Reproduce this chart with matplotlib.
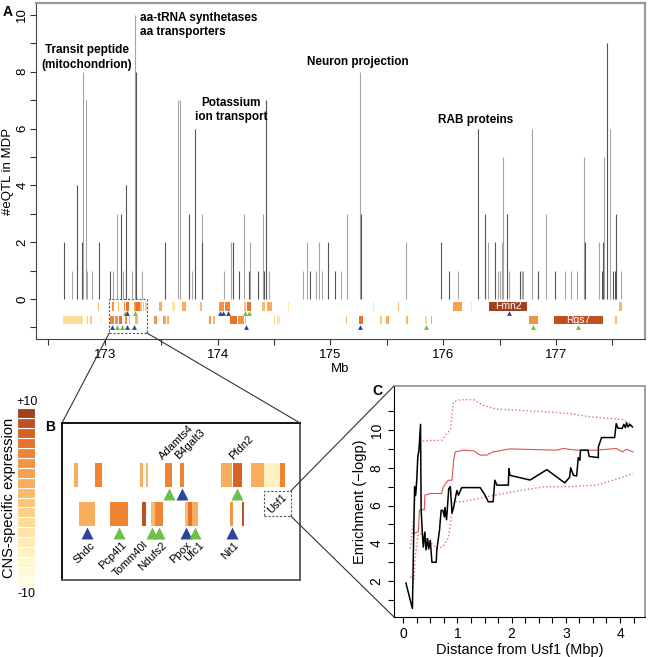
import matplotlib
matplotlib.use("Agg")
import matplotlib.pyplot as plt
from matplotlib.patches import Rectangle, ConnectionPatch
from matplotlib.ticker import MultipleLocator

plt.rcParams['font.family'] = ['Liberation Sans', 'DejaVu Sans']

# ---------------- data ----------------
# panel A: eQTL counts per position (Mb), with a grey tone for each bar
bar_pos = [172.64, 172.71, 172.75, 172.80, 172.80, 172.81, 172.83, 172.84, 172.89, 172.95,
           173.05, 173.07, 173.11, 173.14, 173.16, 173.19, 173.24, 173.27, 173.28, 173.33,
           173.53, 173.65, 173.67, 173.75, 173.77, 173.80, 173.86, 173.86, 174.06, 174.12,
           174.14, 174.19, 174.23, 174.28, 174.29, 174.36, 174.40, 174.41, 174.43, 174.46,
           174.76, 174.79, 174.82, 174.87, 174.90, 174.93, 174.98, 175.04, 175.09, 175.15,
           175.26, 175.27, 175.67, 175.98, 176.05, 176.13, 176.31, 176.37, 176.40, 176.46,
           176.49, 176.50, 176.52, 176.53, 176.57, 176.58, 176.68, 176.70, 176.71, 176.79,
           176.84, 176.91, 176.99, 177.08, 177.13, 177.19, 177.25, 177.26, 177.38, 177.41,
           177.42, 177.43, 177.45, 177.48, 177.51, 177.52, 177.53, 177.58]
bar_h = [2, 1, 4, 1, 2, 8, 7, 1, 1, 2,
         1, 1, 3, 3, 1, 4, 1, 10, 8, 1,
         2, 7, 7, 3, 1, 6, 3, 2, 1, 2,
         2, 1, 3, 1, 2, 1, 3, 1, 7, 1,
         1, 2, 1, 1, 2, 1, 2, 1, 1, 3,
         8, 3, 2, 2, 1, 1, 6, 3, 2, 2,
         1, 1, 2, 5, 3, 1, 1, 1, 1, 6,
         1, 3, 1, 1, 1, 1, 5, 2, 2, 1,
         2, 5, 9, 6, 1, 1, 3, 1]
bar_tone = "dldldllllddlldldlldldlldldldllddldldlddllldlllddllldlddlddldlllldldllldldlllldlddldldddl"

# gene blocks in panel A: start, end (Mb), expression level index
row1_start = [172.94, 173.06, 173.12, 173.17, 173.19, 173.26, 173.28, 173.31, 173.34, 173.36,
              173.48, 173.60, 173.68, 173.84, 174.01, 174.07, 174.23, 174.26, 174.39, 174.44,
              174.62, 174.877, 175.38, 175.60, 176.09, 176.25, 176.41, 177.56]
row1_end = [172.95, 173.08, 173.13, 173.18, 173.21, 173.28, 173.31, 173.33, 173.35, 173.37,
            173.51, 173.62, 173.72, 173.86, 174.06, 174.11, 174.25, 174.30, 174.42, 174.48,
            174.63, 174.885, 175.39, 175.61, 176.17, 176.26, 176.74, 177.59]
row1_level = [9, 12, 9, 13, 14, 12, 14, 9, 8, 7,
              10, 5, 10, 9, 12, 13, 9, 14, 9, 10,
              5, 4, 5, 9, 11, 5, 17, 9]
row2_start = [172.63, 172.84, 172.87, 172.96, 173.05, 173.09, 173.13, 173.18, 173.21, 173.27,
              173.44, 173.52, 173.55, 173.92, 173.96, 174.11, 174.18, 174.245, 174.50, 174.53,
              175.14, 175.25, 175.44, 175.49, 175.67, 175.84, 175.89, 176.76, 176.98, 177.52]
row2_end = [172.81, 172.85, 172.89, 172.97, 173.08, 173.12, 173.15, 173.20, 173.22, 173.29,
            173.46, 173.54, 173.57, 173.94, 173.98, 174.17, 174.23, 174.255, 174.51, 174.55,
            175.15, 175.29, 175.46, 175.52, 175.69, 175.86, 175.90, 176.84, 177.42, 177.54]
row2_level = [6, 8, 8, 5, 13, 12, 14, 12, 9, 9,
              12, 11, 10, 12, 9, 14, 12, 9, 7, 5,
              9, 14, 8, 10, 9, 6, 10, 12, 16, 9]
named_genes = {"Fmn2": (176.41, 176.74, 1), "Rgs7": (176.98, 177.42, 2)}

tri1_pos = [173.18, 173.20, 173.27, 174.02, 174.05, 174.09, 174.24, 174.28, 176.58]
tri1_kind = ["g", "b", "g", "b", "b", "b", "g", "g", "b"]
tri2_pos = [173.06, 173.11, 173.15, 173.20, 173.26, 174.25, 175.26, 175.85, 176.80, 177.20]
tri2_kind = ["b", "g", "g", "b", "b", "b", "b", "g", "g", "g"]

go_labels = ["Transit peptide\n(mitochondrion)", "aa-tRNA synthetases\naa transporters",
             "Potassium\nion transport", "Neuron projection", "RAB proteins"]
go_x = [172.84, 173.31, 174.12, 175.24, 176.29]
go_y = [8.5, 9.65, 6.65, 8.35, 6.3]
go_ha = ["center", "left", "center", "center", "center"]

# panel B: zoomed gene blocks (schematic units)
b1_start = [11.7, 32.7, 77.7, 84.3, 103.3, 117.7, 159.3, 171.0, 188.7, 202.0, 217.7]
b1_end = [16.0, 40.0, 81.0, 86.0, 110.3, 122.0, 170.0, 180.0, 202.0, 217.7, 223.3]
b1_level = [10, 13, 10, 9, 13, 13, 10, 15, 10, 3, 13]
b2_start = [17.0, 48.3, 80.0, 88.7, 92.7, 122.7, 126.0, 130.3, 168.3, 180.0]
b2_end = [33.3, 66.0, 83.7, 92.7, 101.0, 126.0, 130.3, 136.0, 171.0, 182.0]
b2_level = [10, 13, 16, 9, 13, 9, 14, 10, 12, 16]
b1_tri_x = [107.0, 120.0, 175.3]
b1_tri_kind = ["g", "b", "g"]
b2_tri_x = [24.7, 57.0, 89.7, 97.0, 123.7, 133.3, 170.0]
b2_tri_kind = ["b", "g", "g", "g", "b", "g", "b"]
b1_names = ["Adamts4", "B4galt3", "Pfdn2"]
b1_name_x = [102.7, 117.7, 172.7]
b2_names = ["Shdc", "Pcp4l1", "Tomm40l", "Ndufs2", "Ppox", "Ufc1", "Nit1"]
b2_name_x = [26.0, 56.7, 79.3, 97.0, 122.0, 134.3, 170.0]

# colour scale of CNS-specific expression
cbar_levels = list(range(18))
palette = ['#FFFCE3', '#FFF9D9', '#FFF6CF', '#FEF1C3', '#FEEBB5', '#FEE4A7', '#FDDB98',
           '#FCD189', '#FBC67A', '#FABA6B', '#F8AE5D', '#F6A150', '#F49443', '#EF8533',
           '#E5742A', '#D56225', '#BF5022', '#A3401F']

# panel C: enrichment vs distance from Usf1
obs_x = [0.05, 0.17, 0.19, 0.21, 0.23, 0.25, 0.27, 0.29, 0.32, 0.33, 0.35, 0.37, 0.40, 0.42,
         0.45, 0.47, 0.50, 0.53, 0.61, 0.62, 0.67, 0.70, 0.73, 0.76, 0.77, 0.80, 0.84, 0.87,
         0.90, 0.93, 0.99, 1.02, 1.08, 1.42, 1.51, 1.57, 1.66, 1.69, 1.73, 1.82, 1.94, 1.95,
         1.97, 2.34, 2.65, 2.98, 3.07, 3.09, 3.14, 3.20, 3.23, 3.26, 3.27, 3.41, 3.43, 3.60,
         3.60, 3.66, 3.90, 3.93, 3.96, 4.04, 4.07, 4.10, 4.12, 4.15, 4.18, 4.23]
obs_y = [1.9, 0.55, 3.8, 7.0, 6.55, 7.3, 8.6, 8.9, 10.3, 5.9, 4.7, 3.8, 4.6, 3.65,
         4.25, 3.7, 4.15, 3.0, 3.0, 3.65, 4.7, 5.75, 5.75, 5.4, 5.9, 5.25, 6.9, 7.0,
         5.6, 5.9, 6.8, 6.55, 6.95, 6.95, 6.55, 6.2, 6.2, 7.34, 7.08, 7.08, 7.08, 7.95,
         7.6, 7.35, 7.9, 7.2, 7.5, 8.0, 7.6, 7.57, 8.54, 8.4, 8.93, 8.93, 8.6, 8.54,
         9.1, 9.6, 9.6, 10.34, 10.1, 10.08, 10.3, 10.12, 10.38, 10.16, 10.3, 10.16]
mean_x = [0.18, 0.28, 0.30, 0.39, 0.40, 0.50, 0.71, 0.74, 0.83, 0.90, 0.93, 0.96, 1.11, 1.30,
          1.42, 1.54, 1.66, 1.97, 2.83, 2.95, 3.20, 3.56, 3.93, 4.05, 4.12, 4.24]
mean_y = [4.52, 4.61, 5.76, 5.79, 6.55, 6.64, 6.64, 6.99, 7.34, 7.34, 8.4, 8.84, 8.93, 8.9,
          8.67, 8.67, 8.84, 9.0, 8.93, 9.02, 8.93, 8.93, 9.02, 8.84, 8.98, 8.84]
hi_x = [0.13, 0.20, 0.27, 0.31, 0.50, 0.71, 0.80, 0.87, 0.93, 1.05, 1.30, 1.48, 1.73, 2.10,
        2.65, 3.07, 3.44, 3.87, 4.05, 4.18, 4.24]
hi_y = [3.73, 5.5, 8.6, 9.4, 9.45, 9.45, 9.8, 10.0, 11.5, 11.6, 11.6, 11.3, 11.1, 11.05,
        10.96, 10.87, 10.7, 10.6, 10.55, 10.34, 10.1]
lo_x = [0.13, 0.20, 0.22, 0.27, 0.31, 0.45, 0.62, 0.72, 0.83, 0.90, 0.93, 1.10, 1.60, 1.97,
        2.58, 3.07, 3.56, 3.87, 4.05, 4.24]
lo_y = [2.23, 2.1, 3.2, 4.4, 4.52, 4.2, 3.73, 3.8, 4.26, 5.58, 6.2, 6.2, 6.5, 6.7,
        6.99, 7.0, 7.08, 7.34, 7.5, 7.7]

tri_colors = {"b": "#2B479C", "g": "#6CBF47"}
tone_colors = {"d": "#555555", "l": "#A5A5A5"}

fig = plt.figure(figsize=(6.48, 6.57), dpi=100)

# ---------------- panel A ----------------
ax_a = fig.add_axes([0.0556, 0.484, 0.9398, 0.5114])
ax_a.vlines(bar_pos, 0, bar_h, colors=[tone_colors[t] for t in bar_tone], lw=0.8)

for starts, ends, levels, yc in [(row1_start, row1_end, row1_level, -0.26),
                                 (row2_start, row2_end, row2_level, -0.74)]:
    for s, e, lv in zip(starts, ends, levels):
        ax_a.add_patch(Rectangle((s, yc - 0.15), e - s, 0.30, color=palette[lv], lw=0))
for name, (s, e, row) in named_genes.items():
    yc = -0.26 if row == 1 else -0.74
    ax_a.text((s + e) / 2, yc, name, color="white", fontsize=7.5, ha="center", va="center")

for pos, kinds, y in [(tri1_pos, tri1_kind, -0.5), (tri2_pos, tri2_kind, -1.0)]:
    for p, k in zip(pos, kinds):
        ax_a.plot(p, y, marker="^", ms=3.5, color=tri_colors[k], mec="none")

ax_a.add_patch(Rectangle((173.04, -1.19), 0.33, 1.19, fill=False, ls=(0, (2, 1.5)),
                         lw=0.8, ec="#555555"))

for txt, x, y, ha in zip(go_labels, go_x, go_y, go_ha):
    ax_a.text(x, y, txt, ha=ha, va="center", fontsize=8.5, fontweight="bold",
              linespacing=1.25)

ax_a.set_xlim(172.39, 177.79)
ax_a.set_ylim(-1.41, 10.42)
ax_a.set_xticks([173, 174, 175, 176, 177])
ax_a.xaxis.set_minor_locator(MultipleLocator(0.5))
ax_a.set_yticks([0, 2, 4, 6, 8, 10])
ax_a.set_yticks([-1, 1, 3, 5, 7, 9], minor=True)
ax_a.tick_params(which="both", direction="out", length=4, width=0.8, colors="#333333",
                 labelsize=9.5, labelcolor="black")
ax_a.tick_params(axis="y", labelrotation=90, pad=1.5)
for lab in ax_a.get_yticklabels():
    lab.set_va("center")
ax_a.set_xlabel("Mb", fontsize=9.5, labelpad=1)
ax_a.set_ylabel("#eQTL in MDP", fontsize=9.5, labelpad=2)
for side in ["top", "right"]:
    ax_a.spines[side].set_color("#9A9A9A")
    ax_a.spines[side].set_linewidth(1.6)
for side in ["left", "bottom"]:
    ax_a.spines[side].set_color("#444444")
fig.text(8 / 648, 1 - 12 / 657, "A", fontsize=10, fontweight="bold", ha="center", va="center")

# ---------------- colour scale ----------------
ax_cb = fig.add_axes([0.0262, 0.1065, 0.0278, 0.2725])
ax_cb.bar([0] * len(cbar_levels), [1] * len(cbar_levels), bottom=cbar_levels, width=1,
          align="edge", color=palette, edgecolor="white", lw=0.8)
ax_cb.set_xlim(0, 1)
ax_cb.set_ylim(0, len(cbar_levels))
ax_cb.axis("off")
fig.text(27 / 648, 1 - 402 / 657, "+10", fontsize=9, ha="center", va="center")
fig.text(27 / 648, 1 - 594 / 657, "-10", fontsize=9, ha="center", va="center")
fig.text(9 / 648, 1 - 498 / 657, "CNS-specific expression", fontsize=10.5, rotation=90,
         ha="center", va="center")

# ---------------- panel B ----------------
ax_b = fig.add_axes([0.0957, 0.1172, 0.3673, 0.239])
for s, e, lv in zip(b1_start, b1_end, b1_level):
    ax_b.add_patch(Rectangle((s, 93), e - s, 24, color=palette[lv], lw=0))
for s, e, lv in zip(b2_start, b2_end, b2_level):
    ax_b.add_patch(Rectangle((s, 54), e - s, 24, color=palette[lv], lw=0))
for x, k in zip(b1_tri_x, b1_tri_kind):
    ax_b.plot(x, 86, marker="^", ms=8, color=tri_colors[k], mec="none")
for x, k in zip(b2_tri_x, b2_tri_kind):
    ax_b.plot(x, 47, marker="^", ms=8, color=tri_colors[k], mec="none")
for name, x in zip(b1_names, b1_name_x):
    ax_b.text(x, 119, name, rotation=45, ha="left", va="bottom", fontsize=8,
              rotation_mode="anchor")
for name, x in zip(b2_names, b2_name_x):
    ax_b.text(x + 2, 40, name, rotation=45, ha="right", va="top", fontsize=8,
              rotation_mode="anchor")
ax_b.add_patch(Rectangle((202, 64), 26.7, 25, fill=False, ls=(0, (2, 1.5)), lw=0.8,
                         ec="#555555"))
ax_b.text(215.3, 76.5, "Usf1", rotation=45, ha="center", va="center", fontsize=8)
ax_b.set_xlim(0, 238)
ax_b.set_ylim(0, 157)
ax_b.set_xticks([])
ax_b.set_yticks([])
for side in ax_b.spines.values():
    side.set_linewidth(1.3)
ax_b.spines["right"].set_color("#555555")
ax_b.spines["bottom"].set_color("#555555")
fig.text(50 / 648, 1 - 427 / 657, "B", fontsize=10, fontweight="bold", ha="center", va="center")

# ---------------- panel C ----------------
ax_c = fig.add_axes([0.608, 0.0609, 0.3873, 0.3516])
ax_c.plot(hi_x, hi_y, color="#E07070", ls=":", lw=1.0)
ax_c.plot(lo_x, lo_y, color="#E07070", ls=":", lw=1.0)
ax_c.plot(mean_x, mean_y, color="#D9534F", lw=0.8)
ax_c.plot(obs_x, obs_y, color="black", lw=1.1)
ax_c.set_xlim(-0.17, 4.46)
ax_c.set_ylim(0.1, 12.33)
ax_c.set_xticks([0, 1, 2, 3, 4])
ax_c.xaxis.set_minor_locator(MultipleLocator(0.25))
ax_c.set_yticks([2, 4, 6, 8, 10])
ax_c.set_yticks([1, 3, 5, 7, 9, 11], minor=True)
ax_c.tick_params(which="both", direction="out", length=4, width=0.8, labelsize=10)
ax_c.tick_params(axis="y", labelrotation=90)
for lab in ax_c.get_yticklabels():
    lab.set_va("center")
ax_c.set_xlabel("Distance from Usf1 (Mbp)", fontsize=10.5, labelpad=1)
ax_c.set_ylabel("Enrichment (\u2212logp)", fontsize=10.5, labelpad=2)
for side in ["top", "right"]:
    ax_c.spines[side].set_color("#9A9A9A")
    ax_c.spines[side].set_linewidth(1.3)
fig.text(377 / 648, 1 - 391 / 657, "C", fontsize=10, fontweight="bold", ha="center", va="center")

# ---------------- zoom connectors ----------------
for xa, fb in [(173.04, (0, 1)), (173.37, (1, 1))]:
    con = ConnectionPatch(xyA=(xa, -1.19), coordsA="data", axesA=ax_a,
                          xyB=fb, coordsB="axes fraction", axesB=ax_b,
                          color="#333333", lw=0.8)
    fig.add_artist(con)
for yb, fc in [(89, (0, 1)), (64, (0, 0))]:
    con = ConnectionPatch(xyA=(228.7, yb), coordsA="data", axesA=ax_b,
                          xyB=fc, coordsB="axes fraction", axesB=ax_c,
                          color="#333333", lw=0.8)
    fig.add_artist(con)

fig.savefig("out.png", dpi=100)
